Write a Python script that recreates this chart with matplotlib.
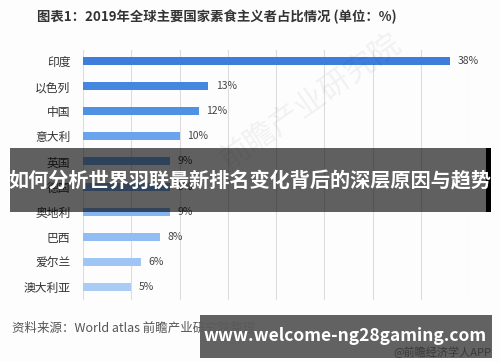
import matplotlib.pyplot as plt
from matplotlib.patches import Rectangle

plt.rcParams['font.family'] = ['Noto Sans CJK SC', 'DejaVu Sans']

countries = ['印度', '以色列', '中国', '意大利', '英国', '德国', '奥地利', '巴西', '爱尔兰', '澳大利亚']
shares = [38, 13, 12, 10, 9, 9, 9, 8, 6, 5]
bar_colors = ['#3d7ddb', '#4586e0', '#5191e4', '#6aa4ee', '#7aaef0', '#7fb2f0',
              '#86b6f1', '#92bdf3', '#9fc5f4', '#a9ccf5']

fig = plt.figure(figsize=(5, 3.62), dpi=100)
fig.patch.set_facecolor('#fdfdfd')
ax = fig.add_axes([0.166, 0.171, 0.772, 0.691])
ax.set_facecolor('#fdfdfd')

y = list(range(len(countries)))
ax.barh(y, shares, height=0.32, color=bar_colors, zorder=3)
for yi, v in zip(y, shares):
    ax.text(v + 0.8, yi, f'{v}%', va='center', ha='left', fontsize=7.5, color='#444444')

ax.set_xlim(0, 40)
ax.set_ylim(9.52, -0.44)
ax.set_xticks(range(0, 41, 5))
ax.set_xticklabels([])
ax.tick_params(axis='x', length=0)
ax.tick_params(axis='y', length=0, pad=9, labelsize=8.5, labelcolor='#333333')
ax.set_yticks(y)
ax.set_yticklabels(countries)
ax.grid(axis='x', color='#dddddd', linewidth=0.8, zorder=0)
for s in ax.spines.values():
    s.set_visible(False)

# faint watermark
fig.text(0.62, 0.72, '前瞻产业研究院', fontsize=22, color='#000000', alpha=0.05,
         rotation=35, ha='center', va='center')

fig.text(0.074, 0.953, '图表1：2019年全球主要国家素食主义者占比情况 (单位：%)',
         fontsize=9.6, fontweight='bold', color='#333333', ha='left', va='center')
fig.text(0.024, 0.094, '资料来源：World atlas 前瞻产业研究院整理',
         fontsize=9, color='#555555', ha='left', va='center')

# overlay banner
fig.patches.append(Rectangle((0.02, 1 - 212 / 362), 0.952, 64 / 362, transform=fig.transFigure,
                             facecolor='#000000', alpha=0.62, edgecolor='none', zorder=10))
fig.patches.append(Rectangle((0.972, 1 - 212 / 362), 0.01, 64 / 362, transform=fig.transFigure,
                             facecolor='#000000', edgecolor='none', zorder=10))
fig.text(0.5, 1 - 181 / 362, '如何分析世界羽联最新排名变化背后的深层原因与趋势',
         fontsize=14.5, fontweight='bold', color='white', ha='center', va='center', zorder=11)

# bottom site box
fig.patches.append(Rectangle((0.40, 1 - 358 / 362), 0.584, 43 / 362, transform=fig.transFigure,
                             facecolor='#5a5a5a', alpha=0.95, edgecolor='none', zorder=10))
fig.text(0.69, 1 - 336 / 362, 'www.welcome-ng28gaming.com', fontsize=12.5, fontweight='bold',
         color='white', ha='center', va='center', zorder=11)
fig.text(0.982, 1 - 352 / 362, '@前瞻经济学人APP', fontsize=8, color='#3a3a3a',
         ha='right', va='center', zorder=11)

fig.savefig('out.png', dpi=100, facecolor=fig.get_facecolor())
